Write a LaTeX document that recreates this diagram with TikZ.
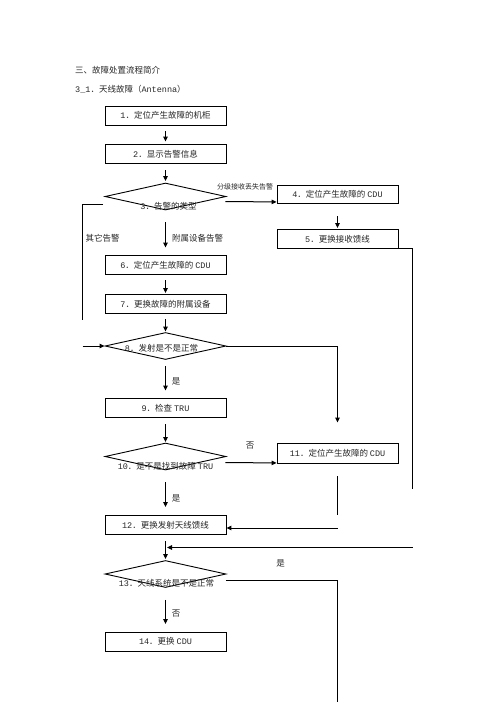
\documentclass[tikz,border=0pt]{standalone}
\usepackage{fontspec}
\newfontfamily\cjk{Noto Sans CJK SC}
\newfontfamily\latfont{Liberation Mono}
\newcommand{\entxt}[1]{{\latfont #1}}
\usepackage{tikz}
\usetikzlibrary{positioning,calc,shapes.geometric,arrows.meta}

\begin{document}
\begin{tikzpicture}[x=1pt,y=-1pt,>={Triangle[length=5pt,width=4.5pt]}]
            \tikzstyle{stepbox}=[rectangle, draw, line width=0.9pt,
            minimum width=121pt, minimum height=19pt, inner sep=0pt,
            text=black!85, font=\cjk\fontsize{8.5}{10}\selectfont]
            \tikzstyle{choice}=[diamond, draw, line width=0.9pt,
            minimum width=121pt, minimum height=27pt, inner sep=0pt]
            \tikzstyle{tag}=[inner sep=0pt, text=black!85,
            font=\cjk\fontsize{8.5}{10}\selectfont]
            \tikzstyle{flow}=[line width=1pt]
            \useasboundingbox (0,0) rectangle (496,702);
            \node[tag, anchor=west] (h1) at (75,70) {三、故障处置流程简介};
            \node[tag, anchor=west] (h2) at (75,89) {\entxt{3\_1}．天线故障（\entxt{Antenna}）};
            \node[stepbox] (b1) at (165.5,115.5) {\entxt{1}．定位产生故障的机柜};
            \node[stepbox] (b2) at (165.5,154) {\entxt{2}．显示告警信息};
            \node[choice, label={[tag, yshift=-9.5pt, xshift=3pt]center:\entxt{3}．告警的类型}] (d3) at (165.5,196.5) {};
            \node[stepbox, minimum height=18pt] (b4) at (337.5,194) {\entxt{4}．定位产生故障的 \entxt{CDU}};
            \node[stepbox] (b5) at (337.5,239) {\entxt{5}．更换接收馈线};
            \node[stepbox] (b6) at (165.5,265) {\entxt{6}．定位产生故障的 \entxt{CDU}};
            \node[stepbox] (b7) at (165.5,304) {\entxt{7}．更换故障的附属设备};
            \node[choice, label={[tag, yshift=-2pt, xshift=-4pt]center:\entxt{8}．发射是不是正常}] (d8) at (165.5,346) {};
            \node[stepbox] (b9) at (165.5,408) {\entxt{9}．检查 \entxt{TRU}};
            \node[choice, label={[tag, yshift=-9.5pt]center:\entxt{10}．是不是找到故障 \entxt{TRU}}] (d10) at (165.5,456.5) {};
            \node[stepbox, minimum height=20pt] (b11) at (337.5,453.5) {\entxt{11}．定位产生故障的 \entxt{CDU}};
            \node[stepbox] (b12) at (165.5,525) {\entxt{12}．更换发射天线馈线};
            \node[choice, label={[tag, yshift=-9.5pt, xshift=1pt]center:\entxt{13}．天线系统是不是正常}] (d13) at (165.5,574) {};
            \node[stepbox] (b14) at (165.5,641.5) {\entxt{14}．更换 \entxt{CDU}};
            % branch labels
            \node[tag, font=\cjk\fontsize{7}{8}\selectfont] (t34) at (245,187) {分级接收丢失告警};
            \node[tag] (t38) at (102.5,238) {其它告警};
            \node[tag] (t36) at (197.5,238) {附属设备告警};
            \node[tag] (t89) at (176,381) {是};
            \node[tag] (t1011) at (250,446) {否};
            \node[tag] (t1012) at (176,498) {是};
            \node[tag] (t13r) at (280.5,563) {是};
            \node[tag] (t1314) at (176,614) {否};
            % free ends
            \coordinate (l3) at (82.5,320);
            \coordinate (l8) at (82.5,346);
            \coordinate (r8) at (337.5,422.5);
            \coordinate (c11) at (337.5,514.5);
            \coordinate (r11) at (337.5,528);
            \coordinate (c5) at (412.5,488.5);
            \coordinate (r5) at (412.5,547.5);
            \coordinate (m13) at (167,547.5);
            \coordinate (r13) at (337.5,702);
            \path[flow]
            (b1) edge [->, shorten <=6pt, shorten >=2.5pt] (b2)
            (b2) edge [->, shorten <=6.5pt, shorten >=1.5pt] (d3)
            (d3) edge [->, shorten <=12pt, shorten >=7.5pt] (b6)
            (b6) edge [->, shorten <=5.5pt, shorten >=1pt] (b7)
            (b7) edge [->, shorten <=5.5pt, shorten >=0.5pt] (d8)
            (d8) edge [->, shorten <=6pt, shorten >=7.5pt] (b9)
            (b9) edge [->, shorten <=6.5pt, shorten >=0.5pt] (d10)
            (d10) edge [->, shorten <=12pt, shorten >=8pt] (b12)
            (b12) edge [->, shorten <=6.5pt, shorten >=1pt] (d13)
            (d13) edge [->, shorten <=12pt, shorten >=7.5pt] (b14)
            (b4) edge [->, shorten <=13pt, shorten >=1pt] (b5);
            \draw[flow, ->] ([yshift=-5pt, xshift=-1pt]d3.east) -- ([yshift=1.5pt]b4.south west);
            \draw[flow] ([yshift=-7.5pt, xshift=-1.5pt]d3.west) -| (l3);
            \draw[flow, ->] (l8) -- (d8.west);
            \draw[flow, ->] (d8.east) -| (r8);
            \draw[flow, ->] ([yshift=-6pt, xshift=-1pt]d10.east) -- ([yshift=1pt]b11.south west);
            \draw[flow] ([yshift=-12.5pt]b11.south) -- (c11);
            \draw[flow, ->] (r11) -- (r11 -| b12.east);
            \draw[flow] (b5.south east) -- (b5.south east -| c5) -- (c5);
            \draw[flow, ->] (r5) -- (m13);
            \draw[flow] ([yshift=-6pt, xshift=-0.5pt]d13.east) -| (r13);
        \end{tikzpicture}
\end{document}
